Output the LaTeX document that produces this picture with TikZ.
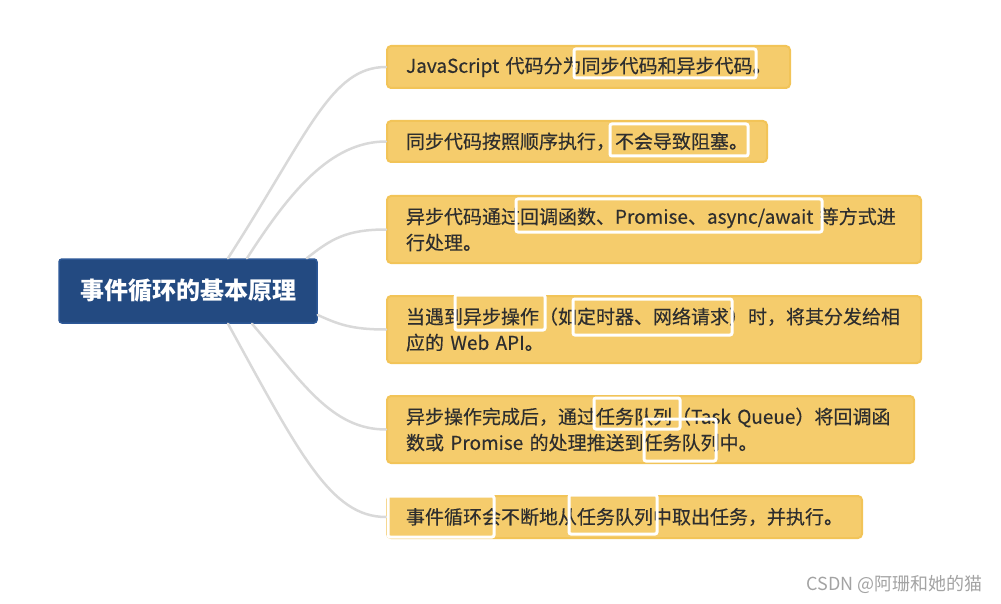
\documentclass[tikz,border=0pt]{standalone}
\usepackage{fontspec}
\setmainfont{Noto Sans CJK SC}
\newfontfamily\leaffont[FakeBold=0.35]{Noto Sans CJK SC}
\definecolor{rootblue}{HTML}{234A81}
\definecolor{rootedge}{HTML}{2C5796}
\definecolor{leaffill}{HTML}{F5CC6C}
\definecolor{leafedge}{HTML}{F2C458}
\definecolor{branch}{HTML}{D9D9D9}
\definecolor{inktext}{HTML}{2E2E2E}
\definecolor{wmgray}{HTML}{A3A3A3}
\tikzset{
  root/.style={draw=rootedge, line width=1.5pt, fill=rootblue, rounded corners=3pt,
    text=white, font=\bfseries\fontsize{24}{28}\selectfont,
    minimum width=258pt, minimum height=64pt, inner sep=0pt},
  leaf/.style={draw=leafedge, line width=2pt, fill=leaffill, rounded corners=4pt,
    text=inktext, font=\leaffont\fontsize{19}{26}\selectfont, align=left, anchor=north west,
    inner xsep=19pt, inner ysep=0pt, text width=#1},
  hilite/.style={draw=white, line width=3pt, rounded corners=2pt},
  branchline/.style={draw=branch, line width=2.5pt, line cap=round}
}
\begin{document}
\begin{tikzpicture}[x=1pt, y=-1pt]
  \useasboundingbox (0,0) rectangle (1001,604);

  % leaves
  \node[leaf=365pt, minimum height=42pt] (l1) at (386,45)
    {JavaScript~代码分为同步代码和异步代码。};
  \node[leaf=342pt, minimum height=41pt] (l2) at (386,120)
    {同步代码按照顺序执行，不会导致阻塞。};
  \node[leaf=496pt, minimum height=67pt] (l3) at (386,195)
    {异步代码通过回调函数、Promise、async/await~等方式进\\行处理。};
  \node[leaf=496pt, minimum height=67pt] (l4) at (386,295)
    {当遇到异步操作（如定时器、网络请求）时，将其分发给相\\应的~Web~API。};
  \node[leaf=489pt, minimum height=67pt] (l5) at (386,395)
    {异步操作完成后，通过任务队列（Task~Queue）将回调函\\数或~Promise~的处理推送到任务队列中。};
  \node[leaf=437pt, minimum height=42pt] (l6) at (386,495)
    {事件循环会不断地从任务队列中取出任务，并执行。};

  % root
  \node[root] (root) at (188,291) {事件循环的基本原理};

  % branches
  \draw[branchline] ([xshift=40pt]root.north) .. controls +(81,-126) and +(-55,0) .. (l1.west);
  \draw[branchline] ([xshift=59pt]root.north) .. controls +(43,-67) and +(-55,0) .. (l2.west);
  \draw[branchline] ([xshift=-11pt]root.north east) .. controls +(24,-19) and +(-40,0) .. (l3.west);
  \draw[branchline] ([yshift=-24pt]root.east) .. controls +(20,9) and +(-35,0) .. (l4.west);
  \draw[branchline] ([xshift=64pt]root.south) .. controls +(50,58) and +(-55,0) .. (l5.west);
  \draw[branchline] ([xshift=40pt]root.south) .. controls +(72,131) and +(-55,0) .. (l6.west);

  % white marks over the key words
  \foreach \xa/\ya/\xb/\yb in {574/49/756/78, 610/124/748/156, 516/199/822/232,
      455/295/545/330, 573/299/732/335, 594/398/680/429, 644/419/716/461,
      388/496/494/537, 569/495/657/534}
    \draw[hilite] (\xa,\ya) rectangle (\xb,\yb);

  \node[text=wmgray, font=\fontsize{18}{20}\selectfont, anchor=east] (wm) at (986,584)
    {CSDN @阿珊和她的猫};
\end{tikzpicture}
\end{document}
